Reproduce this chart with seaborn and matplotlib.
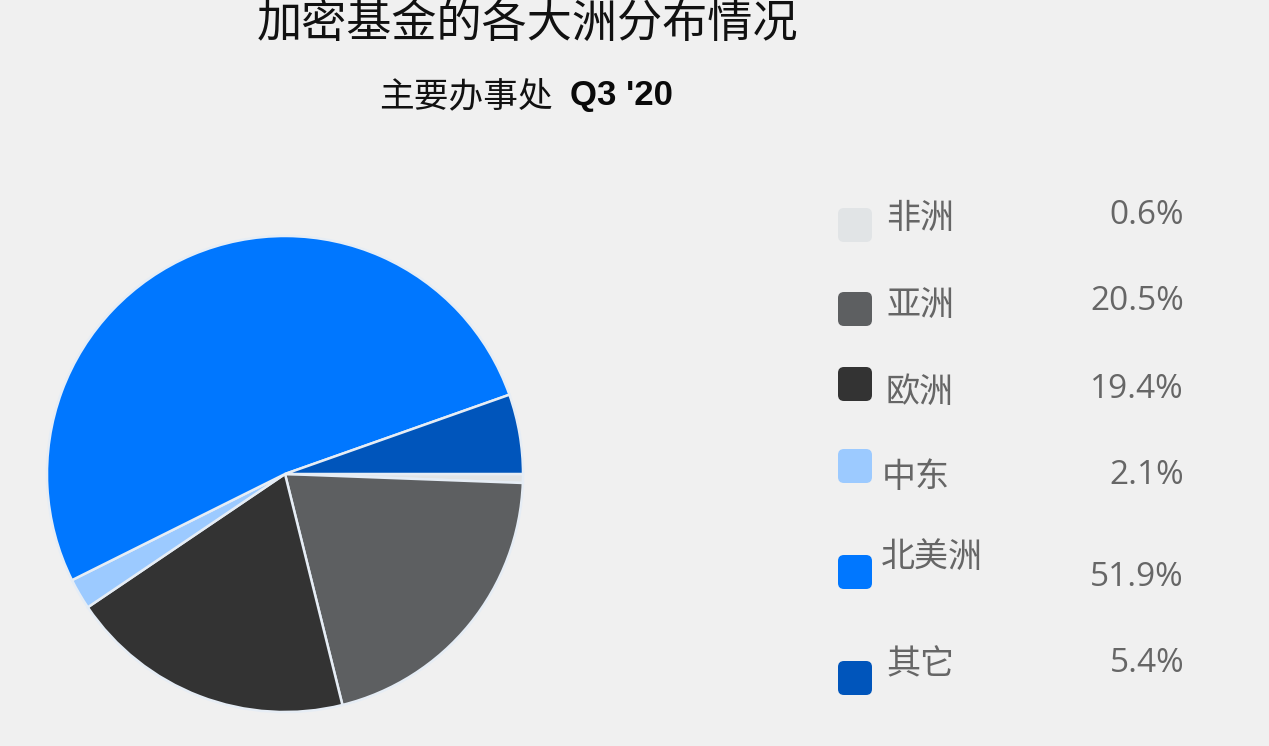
import matplotlib
matplotlib.use("Agg")
import matplotlib.pyplot as plt
from matplotlib.patches import FancyBboxPatch
import seaborn as sns

# Regional split of crypto fund main offices, Q3 2020
regions = ["非洲", "亚洲", "欧洲", "中东", "北美洲", "其它"]
shares = [0.6, 20.5, 19.4, 2.1, 51.9, 5.4]
slice_colors = ["#e1e4e6", "#5d5f61", "#333333", "#9ccaff", "#0077ff", "#0055bb"]

title = "加密基金的各大洲分布情况"
subtitle_cn = "主要办事处"
subtitle_en = "Q3 '20"

BG = "#f0f0f0"
W, H = 1269, 746

sns.set_theme(style="white", rc={"figure.facecolor": BG, "axes.facecolor": BG})
plt.rcParams["font.family"] = ["Noto Sans CJK SC", "DejaVu Sans"]
palette = sns.color_palette(slice_colors)

fig = plt.figure(figsize=(W / 100, H / 100), dpi=100)
fig.patch.set_facecolor(BG)

# pie axes: centre (285, 474) px, radius 238 px
cx, cy, r = 285, 474, 238
ax = fig.add_axes([(cx - r) / W, (H - cy - r) / H, 2 * r / W, 2 * r / H])
wedges, _ = ax.pie(
    shares,
    colors=palette,
    startangle=0,
    counterclock=False,
    radius=1.0,
    wedgeprops=dict(edgecolor="#e6edf5", linewidth=1.8, clip_on=False),
)
ax.set_xlim(-1, 1)
ax.set_ylim(-1, 1)
ax.set_aspect("equal")
ax.axis("off")

# overlay in pixel coordinates for titles and legend
ov = fig.add_axes([0, 0, 1, 1])
ov.set_xlim(0, W)
ov.set_ylim(H, 0)
ov.axis("off")
ov.patch.set_alpha(0)

ov.text(527, 24, title, ha="center", va="center", fontsize=32.5,
        color="#111111", family=["Noto Sans CJK SC", "DejaVu Sans"])
ov.text(379, 97, subtitle_cn, ha="left", va="center", fontsize=25,
        color="#111111", fontweight="medium", family=["Noto Sans CJK SC", "DejaVu Sans"])
ov.text(570, 95, subtitle_en, ha="left", va="center", fontsize=25,
        color="#0a0a0a", fontweight="bold", family=["Liberation Sans", "DejaVu Sans"])

# legend rows
box_y = [225, 309, 384, 466, 572, 678]
label_y = [218, 305, 392, 478, 557, 665]
label_x = [886, 886, 886, 882, 881, 886]
pct_y = [216, 302, 389, 476, 578, 663]
box_size = 30
for i, (name, val) in enumerate(zip(regions, shares)):
    ov.add_patch(FancyBboxPatch(
        (840, box_y[i] - box_size / 2), box_size, box_size,
        boxstyle="round,pad=2,rounding_size=6",
        facecolor=palette[i], edgecolor="none"))
    ov.text(label_x[i], label_y[i], name, ha="left", va="center", fontsize=24.5,
            color="#666666", family=["Noto Sans CJK SC", "DejaVu Sans"])
    ov.text(1184, pct_y[i], f"{val:.1f}%", ha="right", va="center", fontsize=24,
            color="#666666", family=["Open Sans", "DejaVu Sans"])

fig.savefig("out.png", dpi=100, facecolor=BG)
